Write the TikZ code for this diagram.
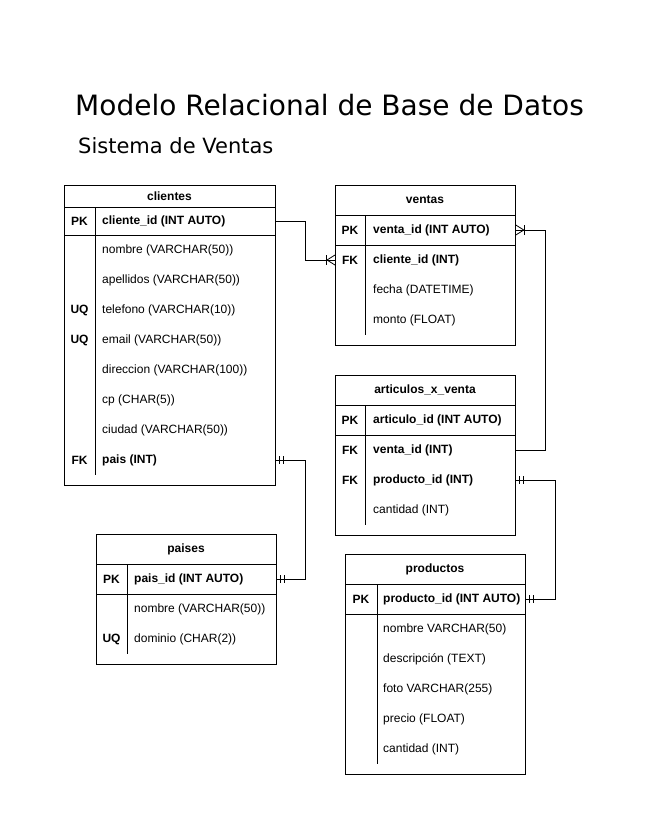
\documentclass[tikz,border=0pt]{standalone}
\usepackage{fontspec}
\setmainfont{Liberation Sans}
\newfontfamily\titlefont{DejaVu Sans}
\usetikzlibrary{positioning,calc}
\newcommand{\tblsize}{\fontsize{12}{14}\selectfont}

\begin{document}
\begin{tikzpicture}[x=1pt, y=-1pt,
    tbl/.style={draw, line width=0.8pt, anchor=north west, inner sep=0pt},
    tname/.style={font=\tblsize\bfseries, inner sep=0pt},
    key/.style={font=\tblsize\bfseries, inner sep=0pt},
    fld/.style={font=\tblsize, anchor=west, inner sep=0pt},
    kfld/.style={fld, font=\tblsize\bfseries},
    sep/.style={draw, line width=0.8pt},
    link/.style={draw, line width=0.8pt},
    crowbar/.pic={
        \draw[line width=0.8pt] (0,-5) -- (-8,0) -- (0,5);
        \draw[line width=0.8pt] (-8,0) -- (0,0);
        \draw[line width=0.8pt] (-9,-5) -- (-9,5);
    },
    twobar/.pic={
        \draw[line width=0.8pt] (4,-4) -- (4,4);
        \draw[line width=0.8pt] (8,-4) -- (8,4);
    }
]
    \useasboundingbox (0,0) rectangle (659,839);

    % Title
    \node[anchor=base west, font=\titlefont\fontsize{28}{32}\selectfont, inner sep=0pt] (title) at (75,115) {Modelo Relacional de Base de Datos};
    \node[anchor=base west, font=\titlefont\fontsize{21}{25}\selectfont, inner sep=0pt] (subtitle) at (78,153) {Sistema de Ventas};

    % Table: clientes
    \node[tbl, minimum width=211pt, minimum height=300pt] (clientes) at (64,185) {};
    \node[tname] (cli_name) at (169.5,196) {clientes};
    \draw[sep] (64,207) -- (275,207);
    \draw[sep] (64,235) -- (275,235);
    \draw[sep] (95,207) -- (95,475);
    \node[key] (cli_k1) at (79.5,221) {PK};
    \node[key] (cli_k2) at (79.5,310) {UQ};
    \node[key] (cli_k3) at (79.5,340) {UQ};
    \node[key] (cli_k4) at (79.5,460) {FK};
    \node[kfld] (cli_pk) at (102,221) {cliente\_id (INT AUTO)};
    \node[fld] (cli_f1) at (102,250) {nombre (VARCHAR(50))};
    \node[fld] (cli_f2) at (102,280) {apellidos (VARCHAR(50))};
    \node[fld] (cli_f3) at (102,310) {telefono (VARCHAR(10))};
    \node[fld] (cli_f4) at (102,340) {email (VARCHAR(50))};
    \node[fld] (cli_f5) at (102,370) {direccion (VARCHAR(100))};
    \node[fld] (cli_f6) at (102,400) {cp (CHAR(5))};
    \node[fld] (cli_f7) at (102,430) {ciudad (VARCHAR(50))};
    \node[kfld] (cli_pais) at (102,460) {pais (INT)};

    % Table: ventas
    \node[tbl, minimum width=180pt, minimum height=160pt] (ventas) at (335,185) {};
    \node[tname] (ven_name) at (425,200) {ventas};
    \draw[sep] (335,215) -- (515,215);
    \draw[sep] (335,245) -- (515,245);
    \draw[sep] (365,215) -- (365,335);
    \node[key] (ven_k1) at (350,230) {PK};
    \node[key] (ven_k2) at (350,260) {FK};
    \node[kfld] (ven_pk) at (373,230) {venta\_id (INT AUTO)};
    \node[kfld] (ven_fk) at (373,260) {cliente\_id (INT)};
    \node[fld] (ven_f1) at (373,290) {fecha (DATETIME)};
    \node[fld] (ven_f2) at (373,320) {monto (FLOAT)};

    % Table: articulos_x_venta
    \node[tbl, minimum width=180pt, minimum height=160pt] (articulos) at (335,375) {};
    \node[tname] (art_name) at (425,390) {articulos\_x\_venta};
    \draw[sep] (335,405) -- (515,405);
    \draw[sep] (335,435) -- (515,435);
    \draw[sep] (365,405) -- (365,525);
    \node[key] (art_k1) at (350,420) {PK};
    \node[key] (art_k2) at (350,450) {FK};
    \node[key] (art_k3) at (350,480) {FK};
    \node[kfld] (art_pk) at (373,420) {articulo\_id (INT AUTO)};
    \node[kfld] (art_vid) at (373,450) {venta\_id (INT)};
    \node[kfld] (art_pid) at (373,480) {producto\_id (INT)};
    \node[fld] (art_f1) at (373,510) {cantidad (INT)};

    % Table: paises
    \node[tbl, minimum width=180pt, minimum height=130pt] (paises) at (96,534) {};
    \node[tname] (pai_name) at (186,549) {paises};
    \draw[sep] (96,564) -- (276,564);
    \draw[sep] (96,594) -- (276,594);
    \draw[sep] (127,564) -- (127,654);
    \node[key] (pai_k1) at (111.5,579) {PK};
    \node[key] (pai_k2) at (111.5,639) {UQ};
    \node[kfld] (pai_pk) at (134,579) {pais\_id (INT AUTO)};
    \node[fld] (pai_f1) at (134,609) {nombre (VARCHAR(50))};
    \node[fld] (pai_f2) at (134,639) {dominio (CHAR(2))};

    % Table: productos
    \node[tbl, minimum width=180pt, minimum height=220pt] (productos) at (345,554) {};
    \node[tname] (pro_name) at (435,569) {productos};
    \draw[sep] (345,584) -- (525,584);
    \draw[sep] (345,614) -- (525,614);
    \draw[sep] (377,584) -- (377,764);
    \node[key] (pro_k1) at (361,599) {PK};
    \node[kfld] (pro_pk) at (383,599) {producto\_id (INT AUTO)};
    \node[fld] (pro_f1) at (383,629) {nombre VARCHAR(50)};
    \node[fld] (pro_f2) at (383,659) {descripción (TEXT)};
    \node[fld] (pro_f3) at (383,689) {foto VARCHAR(255)};
    \node[fld] (pro_f4) at (383,719) {precio (FLOAT)};
    \node[fld] (pro_f5) at (383,749) {cantidad (INT)};

    % Relations
    \draw[link] (cli_pk -| clientes.east) -- ++(30,0) |- (ven_fk -| ventas.west);
    \draw[link] (art_vid -| articulos.east) -- ++(30,0) |- (ven_pk -| ventas.east);
    \draw[link] (cli_pais -| clientes.east) -- ++(30,0) |- (pai_pk -| paises.east);
    \draw[link] (art_pid -| articulos.east) -- ++(40,0) |- (pro_pk -| productos.east);

    % Ends
    \pic at (ven_fk -| ventas.west) {crowbar};
    \pic[rotate=180] at (ven_pk -| ventas.east) {crowbar};
    \pic at (cli_pais -| clientes.east) {twobar};
    \pic at (pai_pk -| paises.east) {twobar};
    \pic at (art_pid -| articulos.east) {twobar};
    \pic at (pro_pk -| productos.east) {twobar};

\end{tikzpicture}
\end{document}
